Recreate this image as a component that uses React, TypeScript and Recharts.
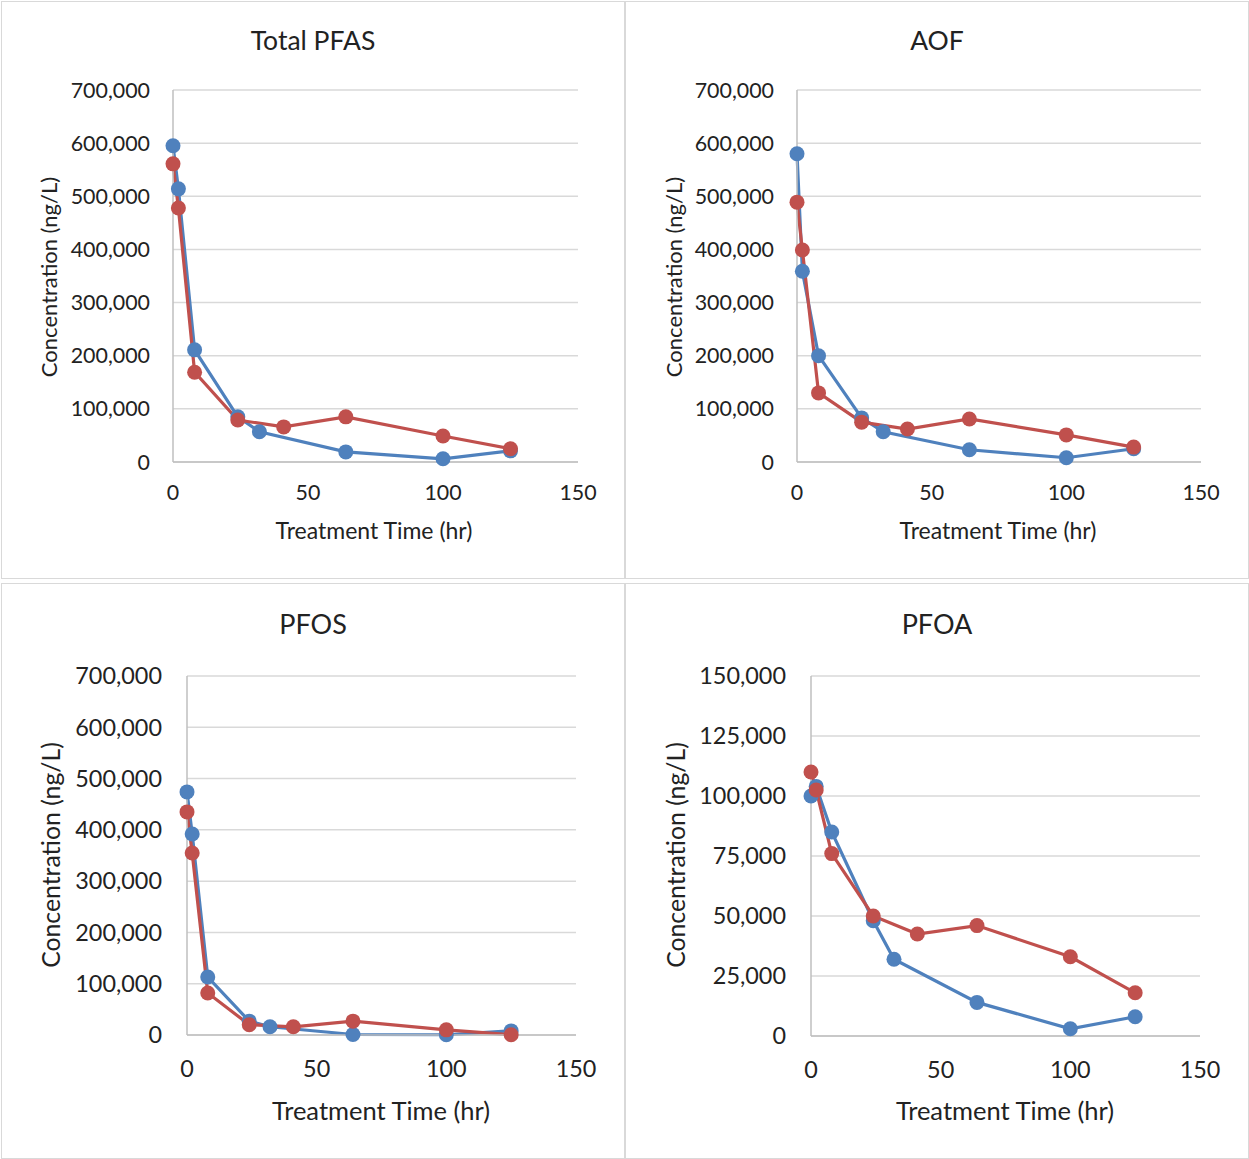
import { CartesianGrid, Line, LineChart, XAxis, YAxis } from "recharts";

const BLUE = "#4F81BD";
const RED = "#C0504D";
const TEXT = "#222222";

// sampling times (hr)
const blueTimes = [0, 2, 8, 24, 32, 64, 100, 125];
const redTimes = [0, 2, 8, 24, 41, 64, 100, 125];

const xTicks = [0, 50, 100, 150];
const bigTicks = [0, 100000, 200000, 300000, 400000, 500000, 600000, 700000];
const pfoaTicks = [0, 25000, 50000, 75000, 100000, 125000, 150000];

const totalBlue = [595000, 514000, 211000, 85000, 57000, 19000, 6000, 21000];
const totalRed = [561000, 478000, 169000, 79000, 66000, 85000, 49000, 25000];
const aofBlue = [580000, 359000, 200000, 83000, 57000, 23000, 8000, 25000];
const aofRed = [489000, 399000, 130000, 75000, 62000, 81000, 51000, 28000];
const pfosBlue = [474000, 392000, 113000, 27000, 16000, 1000, 500, 8000];
const pfosRed = [435000, 355000, 82000, 20000, 16000, 27000, 10000, 500];
const pfoaBlue = [100000, 104000, 85000, 48000, 32000, 14000, 3000, 8000];
const pfoaRed = [110000, 102500, 76000, 50000, 42500, 46000, 33000, 18000];

type Pt = { x: number; y: number };

function pairs(times: number[], values: number[]): Pt[] {
  return times.map((t, i) => ({ x: t, y: values[i] }));
}

type Box = { left: number; top: number; width: number; height: number };
type Plot = { l: number; r: number; t: number; b: number };

type PanelProps = {
  title: string;
  box: Box;
  plot: Plot;
  yTicks: number[];
  blue: Pt[];
  red: Pt[];
  titleAt: [number, number];
  yLabelAt: [number, number];
  xLabelAt: [number, number];
  tickFont: number;
  titleFont: number;
  xLabelFont: number;
  yLabelFont: number;
  xTickGap: number;
  yTickGap: number;
};

const fmt = (v: number) => v.toLocaleString("en-US");

function Panel(p: PanelProps) {
  const xAxisH = 80;
  const margin = {
    top: p.plot.t - p.box.top,
    right: p.box.left + p.box.width - p.plot.r,
    left: 0,
    bottom: p.box.top + p.box.height - p.plot.b - xAxisH
  };
  const yMax = p.yTicks[p.yTicks.length - 1];
  const textStyle = {
    position: "absolute" as const,
    whiteSpace: "nowrap" as const,
    color: TEXT
  };

  return (
    <>
      <div
        style={{
          position: "absolute",
          left: p.box.left,
          top: p.box.top,
          width: p.box.width,
          height: p.box.height,
          border: "1px solid #d9d9d9",
          boxSizing: "border-box"
        }}
      />
      <div style={{ position: "absolute", left: p.box.left, top: p.box.top }}>
        <LineChart width={p.box.width} height={p.box.height} margin={margin}>
          <CartesianGrid vertical={false} stroke="#d9d9d9" strokeWidth={1.5} />
          <XAxis
            type="number"
            dataKey="x"
            domain={[0, 150]}
            ticks={xTicks}
            height={xAxisH}
            tickLine={false}
            tickSize={0}
            tickMargin={p.xTickGap}
            stroke="#bfbfbf"
            strokeWidth={1.5}
            tick={{ fill: TEXT, fontSize: p.tickFont }}
            allowDuplicatedCategory={false}
          />
          <YAxis
            type="number"
            dataKey="y"
            domain={[0, yMax]}
            ticks={p.yTicks}
            width={p.plot.l - p.box.left}
            tickLine={false}
            tickSize={0}
            tickMargin={p.yTickGap}
            stroke="#bfbfbf"
            strokeWidth={1.5}
            tickFormatter={fmt}
            tick={{ fill: TEXT, fontSize: p.tickFont }}
          />
          <Line
            data={p.blue}
            dataKey="y"
            stroke={BLUE}
            strokeWidth={3.2}
            dot={{ r: 7.5, fill: BLUE, stroke: BLUE, strokeWidth: 0 }}
            isAnimationActive={false}
          />
          <Line
            data={p.red}
            dataKey="y"
            stroke={RED}
            strokeWidth={3.2}
            dot={{ r: 7.5, fill: RED, stroke: RED, strokeWidth: 0 }}
            isAnimationActive={false}
          />
        </LineChart>
      </div>
      <div
        style={{
          ...textStyle,
          left: p.titleAt[0],
          top: p.titleAt[1],
          fontSize: p.titleFont,
          transform: "translate(-50%, -50%)"
        }}
      >
        {p.title}
      </div>
      <div
        style={{
          ...textStyle,
          left: p.xLabelAt[0],
          top: p.xLabelAt[1],
          fontSize: p.xLabelFont,
          transform: "translate(-50%, -50%)"
        }}
      >
        Treatment Time (hr)
      </div>
      <div
        style={{
          ...textStyle,
          left: p.yLabelAt[0],
          top: p.yLabelAt[1],
          fontSize: p.yLabelFont,
          transform: "translate(-50%, -50%) rotate(-90deg)"
        }}
      >
        Concentration (ng/L)
      </div>
    </>
  );
}

export default function App() {
  return (
    <div
      style={{
        position: "absolute",
        left: 0,
        top: 0,
        width: 1249,
        height: 1159,
        background: "#fff",
        fontFamily: "Lato, 'Open Sans', sans-serif",
        overflow: "hidden"
      }}
    >
      <Panel
        title="Total PFAS"
        box={{ left: 1, top: 1, width: 625, height: 578 }}
        plot={{ l: 173, r: 578, t: 90, b: 462 }}
        yTicks={bigTicks}
        blue={pairs(blueTimes, totalBlue)}
        red={pairs(redTimes, totalRed)}
        titleAt={[313, 40]}
        yLabelAt={[48, 277]}
        xLabelAt={[374, 530]}
        tickFont={21.4}
        titleFont={26.5}
        xLabelFont={23}
        yLabelFont={22}
        xTickGap={23}
        yTickGap={23}
      />
      <Panel
        title="AOF"
        box={{ left: 624, top: 1, width: 625, height: 578 }}
        plot={{ l: 797, r: 1201, t: 90, b: 462 }}
        yTicks={bigTicks}
        blue={pairs(blueTimes, aofBlue)}
        red={pairs(redTimes, aofRed)}
        titleAt={[937, 40]}
        yLabelAt={[673, 277]}
        xLabelAt={[998, 530]}
        tickFont={21.4}
        titleFont={26.5}
        xLabelFont={23}
        yLabelFont={22}
        xTickGap={23}
        yTickGap={23}
      />
      <Panel
        title="PFOS"
        box={{ left: 1, top: 583, width: 625, height: 576 }}
        plot={{ l: 187, r: 576, t: 676, b: 1035 }}
        yTicks={bigTicks}
        blue={pairs(blueTimes, pfosBlue)}
        red={pairs(redTimes, pfosRed)}
        titleAt={[313, 623]}
        yLabelAt={[50, 855]}
        xLabelAt={[381, 1110]}
        tickFont={23.4}
        titleFont={27}
        xLabelFont={25.5}
        yLabelFont={24.8}
        xTickGap={25}
        yTickGap={25}
      />
      <Panel
        title="PFOA"
        box={{ left: 624, top: 583, width: 625, height: 576 }}
        plot={{ l: 811, r: 1200, t: 676, b: 1036 }}
        yTicks={pfoaTicks}
        blue={pairs(blueTimes, pfoaBlue)}
        red={pairs(redTimes, pfoaRed)}
        titleAt={[937, 623]}
        yLabelAt={[675, 855]}
        xLabelAt={[1005, 1110]}
        tickFont={23.4}
        titleFont={27}
        xLabelFont={25.5}
        yLabelFont={24.8}
        xTickGap={25}
        yTickGap={25}
      />
    </div>
  );
}
